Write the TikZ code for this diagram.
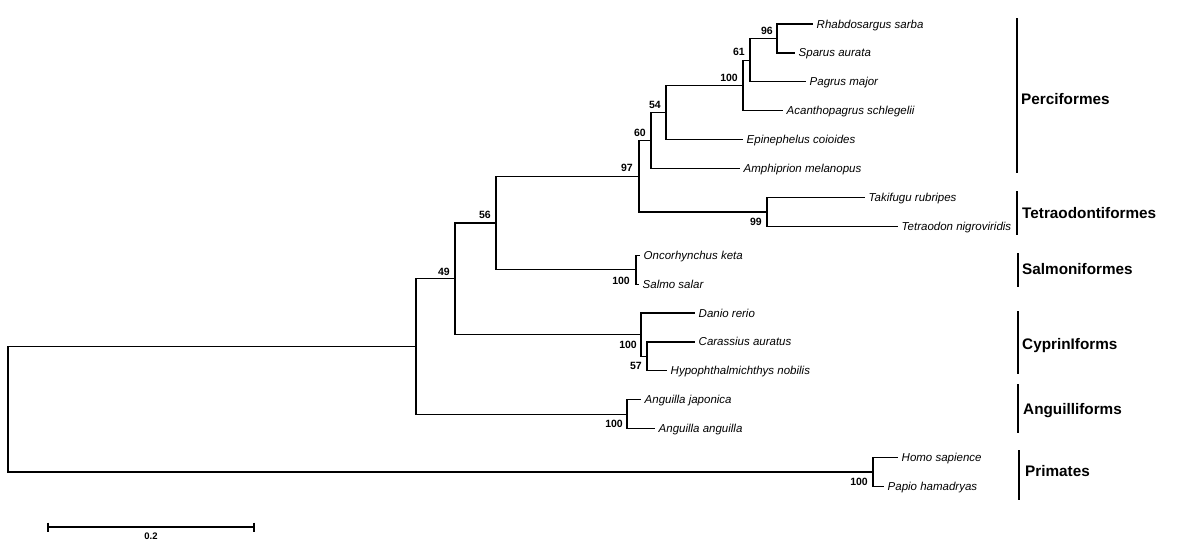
\documentclass[tikz,border=0pt]{standalone}
\usepackage{fontspec}
\setmainfont{Liberation Sans}
\begin{document}
\begin{tikzpicture}[x=1pt,y=-1pt,
  br/.style={line width=1.2pt},
  leaf/.style={font=\fontsize{11.5}{13}\selectfont\itshape, inner sep=0pt, anchor=base west},
  bs/.style={font=\fontsize{10.5}{12}\selectfont\bfseries, inner sep=0pt},
  bsa/.style={bs, anchor=south east},
  bsb/.style={bs, anchor=north east},
  ord/.style={font=\fontsize{15.3}{18}\selectfont\bfseries, inner sep=0pt, anchor=base west},
  obar/.style={line width=2pt}]
\useasboundingbox (0,0) rectangle (1200,544);

% leaf ends
\coordinate (l1) at (813,24);
\coordinate (l2) at (795,52.9);
\coordinate (l3) at (806,81.8);
\coordinate (l4) at (783,110.7);
\coordinate (l5) at (743,139.6);
\coordinate (l6) at (740,168.5);
\coordinate (l7) at (865,197.4);
\coordinate (l8) at (898,226.3);
\coordinate (l9) at (640,255.2);
\coordinate (l10) at (639,284.1);
\coordinate (l11) at (695,313);
\coordinate (l12) at (695,341.9);
\coordinate (l13) at (667,370.8);
\coordinate (l14) at (641,399.7);
\coordinate (l15) at (655,428.6);
\coordinate (l16) at (898,457.5);
\coordinate (l17) at (884,486.4);

% internal nodes
\coordinate (n96) at (777,38.5);
\coordinate (n61) at (750,60.2);
\coordinate (n100a) at (743,85.5);
\coordinate (n54) at (666,112.5);
\coordinate (n60) at (651,140.5);
\coordinate (nTet) at (767,211.9);
\coordinate (n97) at (639,176.2);
\coordinate (nSal) at (636,269.6);
\coordinate (n56) at (496,222.9);
\coordinate (n57) at (647,356.4);
\coordinate (nCyp) at (641,334.7);
\coordinate (n49) at (455,278.8);
\coordinate (nAng) at (627,414.2);
\coordinate (nIn) at (416,346.5);
\coordinate (nPri) at (873,472);
\coordinate (root) at (8,409.2);

% branches
\draw[br] (root) |- (nIn);
\draw[br] (root) |- (nPri);
\draw[br] (nIn) |- (n49);
\draw[br] (nIn) |- (nAng);
\draw[br] (n49) |- (n56);
\draw[br] (n49) |- (nCyp);
\draw[br] (n56) |- (n97);
\draw[br] (n56) |- (nSal);
\draw[br] (n97) |- (n60);
\draw[br] (n97) |- (nTet);
\draw[br] (n60) |- (n54);
\draw[br] (n60) |- (l6);
\draw[br] (n54) |- (n100a);
\draw[br] (n54) |- (l5);
\draw[br] (n100a) |- (n61);
\draw[br] (n100a) |- (l4);
\draw[br] (n61) |- (n96);
\draw[br] (n61) |- (l3);
\draw[br] (n96) |- (l1);
\draw[br] (n96) |- (l2);
\draw[br] (nTet) |- (l7);
\draw[br] (nTet) |- (l8);
\draw[br] (nSal) |- (l9);
\draw[br] (nSal) |- (l10);
\draw[br] (nCyp) |- (l11);
\draw[br] (nCyp) |- (n57);
\draw[br] (n57) |- (l12);
\draw[br] (n57) |- (l13);
\draw[br] (nAng) |- (l14);
\draw[br] (nAng) |- (l15);
\draw[br] (nPri) |- (l16);
\draw[br] (nPri) |- (l17);

% taxon names
\node[leaf] (t1) at ([xshift=3.5pt,yshift=-4pt]l1) {Rhabdosargus sarba};
\node[leaf] (t2) at ([xshift=3.5pt,yshift=-4pt]l2) {Sparus aurata};
\node[leaf] (t3) at ([xshift=3.5pt,yshift=-4pt]l3) {Pagrus major};
\node[leaf] (t4) at ([xshift=3.5pt,yshift=-4pt]l4) {Acanthopagrus schlegelii};
\node[leaf] (t5) at ([xshift=3.5pt,yshift=-4pt]l5) {Epinephelus coioides};
\node[leaf] (t6) at ([xshift=3.5pt,yshift=-4pt]l6) {Amphiprion melanopus};
\node[leaf] (t7) at ([xshift=3.5pt,yshift=-4pt]l7) {Takifugu rubripes};
\node[leaf] (t8) at ([xshift=3.5pt,yshift=-4pt]l8) {Tetraodon nigroviridis};
\node[leaf] (t9) at ([xshift=3.5pt,yshift=-4pt]l9) {Oncorhynchus keta};
\node[leaf] (t10) at ([xshift=3.5pt,yshift=-4pt]l10) {Salmo salar};
\node[leaf] (t11) at ([xshift=3.5pt,yshift=-4pt]l11) {Danio rerio};
\node[leaf] (t12) at ([xshift=3.5pt,yshift=-4pt]l12) {Carassius auratus};
\node[leaf] (t13) at ([xshift=3.5pt,yshift=-4pt]l13) {Hypophthalmichthys nobilis};
\node[leaf] (t14) at ([xshift=3.5pt,yshift=-4pt]l14) {Anguilla japonica};
\node[leaf] (t15) at ([xshift=3.5pt,yshift=-4pt]l15) {Anguilla anguilla};
\node[leaf] (t16) at ([xshift=3.5pt,yshift=-4pt]l16) {Homo sapience};
\node[leaf] (t17) at ([xshift=3.5pt,yshift=-4pt]l17) {Papio hamadryas};

% bootstrap values
\node[bsa] (b96) at ([xshift=-4pt,yshift=4pt]n96) {96};
\node[bsa] (b61) at ([xshift=-5pt,yshift=4pt]n61) {61};
\node[bsa] (b100a) at ([xshift=-5pt,yshift=4pt]n100a) {100};
\node[bsa] (b54) at ([xshift=-5pt,yshift=4pt]n54) {54};
\node[bsa] (b60) at ([xshift=-5pt,yshift=4pt]n60) {60};
\node[bsa] (b97) at ([xshift=-6pt,yshift=4pt]n97) {97};
\node[bsa] (b56) at ([xshift=-5pt,yshift=4pt]n56) {56};
\node[bsa] (b49) at ([xshift=-5pt,yshift=3pt]n49) {49};
\node[bsb] (b99) at ([xshift=-5pt,yshift=-6pt]nTet) {99};
\node[bsb] (b100s) at ([xshift=-6pt,yshift=-7pt]nSal) {100};
\node[bsb] (b100c) at ([xshift=-4pt,yshift=-6pt]nCyp) {100};
\node[bsb] (b57) at ([xshift=-5pt,yshift=-6pt]n57) {57};
\node[bsb] (b100g) at ([xshift=-4pt,yshift=-6pt]nAng) {100};
\node[bsb] (b100p) at ([xshift=-5pt,yshift=-6pt]nPri) {100};

% order bars and names
\draw[obar] (1017,18) -- (1017,173);
\node[ord] (o1) at (1021,104.5) {Perciformes};
\draw[obar] (1017,191) -- (1017,235);
\node[ord] (o2) at (1022,218.5) {Tetraodontiformes};
\draw[obar] (1018,253) -- (1018,287);
\node[ord] (o3) at (1022,274.5) {Salmoniformes};
\draw[obar] (1018,311) -- (1018,374);
\node[ord] (o4) at (1022,349.5) {CyprinIforms};
\draw[obar] (1018,384) -- (1018,433);
\node[ord] (o5) at (1023,414.5) {Anguilliforms};
\draw[obar] (1019,450) -- (1019,500);
\node[ord] (o6) at (1025,476.5) {Primates};

% scale bar
\coordinate (s1) at (48,527);
\coordinate (s2) at (254,527);
\draw[br] (s1) -- (s2);
\draw[br] ([yshift=4.5pt]s1) -- ([yshift=-4.5pt]s1);
\draw[br] ([yshift=4.5pt]s2) -- ([yshift=-4.5pt]s2);
\node[font=\fontsize{9.5}{11}\selectfont\bfseries, inner sep=0pt] (sl) at (151,536) {0.2};
\end{tikzpicture}
\end{document}
